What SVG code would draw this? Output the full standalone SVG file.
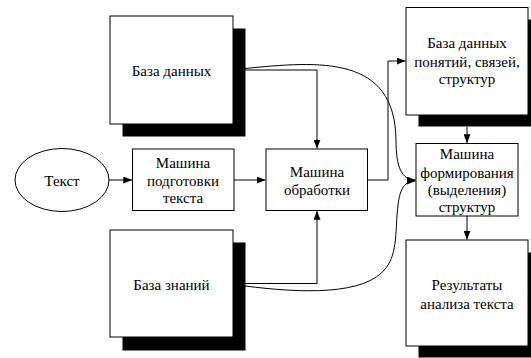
<svg xmlns="http://www.w3.org/2000/svg" width="531" height="358" viewBox="0 0 531 358">
<defs>
<marker id="ah" viewBox="0 0 10 8" refX="10" refY="4" markerWidth="9" markerHeight="7" markerUnits="userSpaceOnUse" orient="auto">
<path d="M0,0 L10,4 L0,8 Z" fill="#000"/>
</marker>
</defs>
<style>
.box{fill:#fff;stroke:#000;stroke-width:1}
.sh{fill:#000}
text{font-family:'Liberation Serif','DejaVu Serif',serif;font-size:15px;fill:#000;text-anchor:middle}
.c{fill:none;stroke:#000;stroke-width:1}
</style>
<rect width="531" height="358" fill="#fff"/>
<g id="connectors">
<path class="c" d="M109,180 H132" marker-end="url(#ah)"/>
<path class="c" d="M234,180 H265.5" marker-end="url(#ah)"/>
<path class="c" d="M245,70 H317 V148.5" marker-end="url(#ah)"/>
<path class="c" d="M245,283.5 H317 V211" marker-end="url(#ah)"/>
<path class="c" d="M368,180 H388 V61 H405.5" marker-end="url(#ah)"/>
<path class="c" d="M467,127 V143" marker-end="url(#ah)"/>
<path class="c" d="M467,216 V239.5" marker-end="url(#ah)"/>
<path class="c" d="M245,68.5 C320,61 395,55 396,140 C396,168 402,180 415.5,180" marker-end="url(#ah)"/>
<path class="c" d="M245,286 C300,293 365,296 386,268 C398,252 395,230 398,205 C400,188 405,181 415.5,181" marker-end="url(#ah)"/>
</g>
<g id="text-node">
<ellipse cx="62" cy="180" rx="47" ry="31.5" class="box"/>
<text x="62" y="185.5">Текст</text>
</g>
<g id="db">
<rect class="sh" x="122.5" y="28.5" width="123" height="108"/>
<rect class="box" x="110" y="16" width="123" height="108"/>
<text x="171.5" y="75.5">База данных</text>
</g>
<g id="kb">
<rect class="sh" x="122.5" y="242.5" width="123" height="108"/>
<rect class="box" x="110" y="230" width="123" height="107"/>
<text x="171.5" y="289.5">База знаний</text>
</g>
<g id="prep">
<rect class="box" x="132.5" y="149" width="101.5" height="61.5"/>
<text x="183" y="168">Машина</text>
<text x="183" y="185.5">подготовки</text>
<text x="183" y="203">текста</text>
</g>
<g id="proc">
<rect class="box" x="266" y="149" width="101.5" height="61.5"/>
<text x="317" y="177">Машина</text>
<text x="317" y="195">обработки</text>
</g>
<g id="dbc">
<rect class="sh" x="418.5" y="19.5" width="125" height="107"/>
<rect class="box" x="406" y="7.5" width="122" height="107.5"/>
<text x="467" y="48">База данных</text>
<text x="467" y="67">понятий, связей,</text>
<text x="467" y="84">структур</text>
</g>
<g id="form">
<rect class="box" x="416" y="143.5" width="102" height="72.5"/>
<text x="467" y="158.5">Машина</text>
<text x="467" y="177.5">формирования</text>
<text x="467" y="194.5">(выделения)</text>
<text x="467" y="211.5">структур</text>
</g>
<g id="res">
<rect class="sh" x="418.5" y="252.5" width="125" height="105"/>
<rect class="box" x="406" y="240" width="122" height="106"/>
<text x="467" y="290">Результаты</text>
<text x="467" y="309">анализа текста</text>
</g>
</svg>
